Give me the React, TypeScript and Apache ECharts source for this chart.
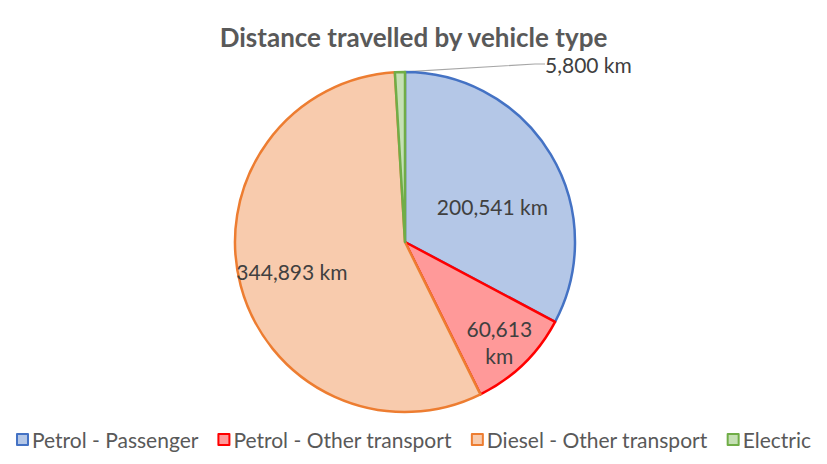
import React, { useEffect, useRef } from "react";
import * as echarts from "echarts";

const categories = ["Petrol - Passenger", "Petrol - Other transport", "Diesel - Other transport", "Electric"];
const values = [200541, 60613, 344893, 5800];
const fills = ["#B4C7E7", "#FF9999", "#F8CBAD", "#C5E0B4"];
const borders = ["#4472C4", "#FF0000", "#ED7D31", "#70AD47"];

const fmt = (v: number) => v.toLocaleString("en-US");

export default function App() {
  const ref = useRef<HTMLDivElement>(null);
  useEffect(() => {
    document.body.style.margin = "0";
    const chart = echarts.init(ref.current!, null, { renderer: "svg" });
    const offsets = [
      [12, 10],
      [33, 37],
      [-28, 7],
      [0, 0],
    ];
    chart.setOption({
      animation: false,
      backgroundColor: "#ffffff",
      title: {
        text: "Distance travelled by vehicle type",
        left: "center",
        top: 19,
        textStyle: { fontFamily: "Lato", fontWeight: "bold", fontSize: 26, color: "#595959", lineHeight: 26 },
      },
      legend: {
        bottom: 9,
        left: "center",
        itemWidth: 11,
        itemHeight: 11,
        itemGap: 19,
        icon: "rect",
        textStyle: { fontFamily: "Lato", fontSize: 21, color: "#595959", padding: [0, 0, 0, -1] },
        data: categories,
      },
      series: [
        {
          type: "pie",
          center: [405, 242],
          radius: 170,
          startAngle: 90,
          clockwise: true,
          data: categories.map((c, i) => ({
            name: c,
            value: values[i],
            itemStyle: { color: fills[i], borderColor: borders[i], borderWidth: 2.5 },
            label:
              i === 3
                ? { position: "outside", formatter: fmt(values[i]) + " km", lineHeight: 20 }
                : {
                    position: "inside",
                    formatter: i === 1 ? fmt(values[i]) + "\nkm" : fmt(values[i]) + " km",
                  },
            labelLine: i === 3 ? { show: true, length: 10, length2: 10, lineStyle: { color: "#A6A6A6", width: 1.2 } } : { show: false },
          })),
          label: {
            fontFamily: "Lato",
            fontSize: 21,
            color: "#404040",
            lineHeight: 27,
          },
          labelLayout: (params: any) => {
            const i = params.dataIndex;
            if (i === 3) {
              return { x: 545, y: 64, align: "left", verticalAlign: "middle" };
            }
            return { dx: offsets[i][0], dy: offsets[i][1] };
          },
          emphasis: { disabled: true },
        },
      ],
    });
    return () => chart.dispose();
  }, []);
  return <div ref={ref} style={{ width: 827, height: 464 }} />;
}
